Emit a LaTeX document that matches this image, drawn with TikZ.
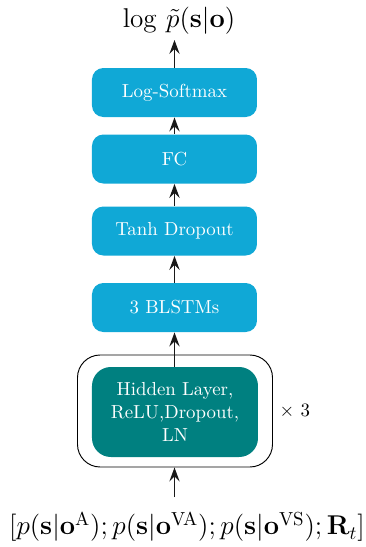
\documentclass[tikz,border=0pt]{standalone}
\usepackage{amsmath}
\usetikzlibrary{arrows.meta,positioning}
\definecolor{layerblue}{RGB}{16,168,214}
\definecolor{layerteal}{RGB}{0,128,128}
\tikzset{
  layer/.style={fill=layerblue, draw=none, rounded corners=6pt, text=white,
    minimum width=165*0.53pt, minimum height=49*0.53pt, inner sep=0pt, font=\normalsize},
  hidden/.style={fill=layerteal, draw=none, rounded corners=10pt, text=white,
    minimum width=166*0.53pt, minimum height=90*0.53pt, inner sep=0pt, align=center,
    font=\normalsize},
  group/.style={draw=black, line width=0.5pt, rounded corners=12pt, fill=none},
  flow/.style={-{Stealth[length=7.5pt,width=5.5pt,inset=2.8pt]}, line width=0.7pt, black!90},
}
\begin{document}
\begin{tikzpicture}[x=0.53pt,y=-0.53pt]
  \useasboundingbox (0,0) rectangle (365,547);
  % output label
  \node[inner sep=1pt] (out) at (179,21) {\fontsize{15}{18}\selectfont $\log\,\tilde{p}(\mathbf{s}|\mathbf{o})$};
  % layer stack
  \node[layer] (lsm) at (174.5,92.5) {Log-Softmax};
  \node[layer] (fc) at (174.5,159) {FC};
  \node[layer] (tanh) at (174.5,231) {Tanh Dropout};
  \node[layer] (blstm) at (174.5,307.5) {3 BLSTMs};
  % repeated hidden block
  \node[hidden] (hid) at (175,412) {Hidden Layer,\\ReLU,Dropout,\\LN};
  \node[group, minimum width=195*0.53pt, minimum height=112*0.53pt] (grp) at (175,411) {};
  \node[anchor=west, font=\normalsize] (rep) at (grp.east) {$\times$ 3};
  % input label
  \node (in) at (187,527) {\Large $[p(\mathbf{s}|\mathbf{o}^{\mathrm{A}});p(\mathbf{s}|\mathbf{o}^{\mathrm{VA}});p(\mathbf{s}|\mathbf{o}^{\mathrm{VS}});\mathbf{R}_t]$};
  \coordinate (inTop) at (174.5,497);
  \coordinate (outBot) at (174.5,40);
  % connectors
  \draw[flow] (inTop) -- (grp.south -| inTop);
  \draw[flow] (hid.north -| inTop) -- (blstm.south -| inTop);
  \draw[flow] (blstm.north) -- (tanh.south);
  \draw[flow] (tanh.north) -- (fc.south);
  \draw[flow] (fc.north) -- (lsm.south);
  \draw[flow] (lsm.north) -- (outBot);
\end{tikzpicture}
\end{document}
